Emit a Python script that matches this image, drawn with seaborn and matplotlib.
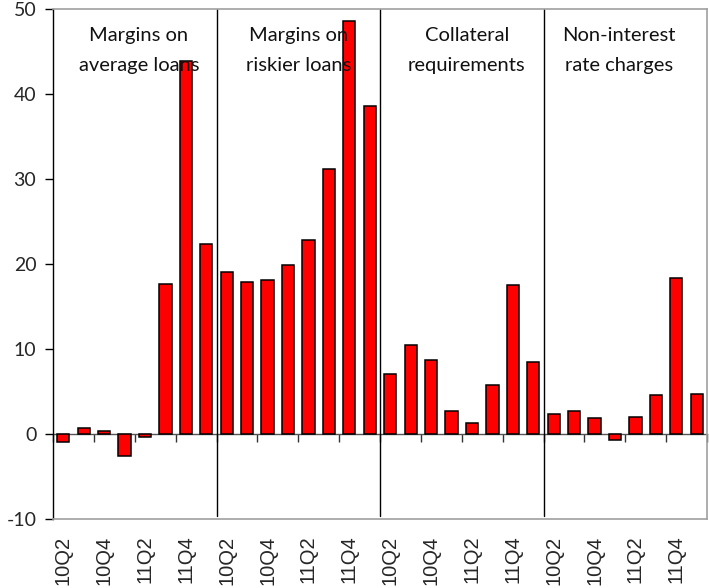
import pandas as pd
import numpy as np
import matplotlib.pyplot as plt
import seaborn as sns

# quarters shown in every panel
quarters = ['10Q2', '10Q3', '10Q4', '11Q1', '11Q2', '11Q3', '11Q4', '12Q1']
panels = ['Margins on\naverage loans', 'Margins on\nriskier loans',
          'Collateral\nrequirements', 'Non-interest\nrate charges']

avg_loans = [-0.9, 0.7, 0.35, -2.6, -0.3, 17.7, 43.9, 22.3]
riskier_loans = [19.1, 17.9, 18.1, 19.9, 22.8, 31.2, 48.6, 38.6]
collateral = [7.1, 10.45, 8.65, 2.7, 1.35, 5.75, 17.55, 8.45]
non_interest = [2.4, 2.7, 1.85, -0.7, 2.05, 4.55, 18.4, 4.7]

series = [avg_loans, riskier_loans, collateral, non_interest]

rows = []
for p, vals in enumerate(series):
    for q, v in zip(quarters, vals):
        rows.append({'panel': panels[p], 'quarter': q, 'value': v})
df = pd.DataFrame(rows)
df['pos'] = np.arange(len(df))

sns.set_theme(style='white')
plt.rcParams['font.family'] = ['Lato', 'DejaVu Sans']
plt.rcParams['axes.unicode_minus'] = False

fig = plt.figure(figsize=(7.09, 5.88), dpi=100)
ax = fig.add_axes([53 / 709, 69 / 588, 654 / 709, 510 / 588])

sns.barplot(data=df, x='pos', y='value', color='#ff0000', saturation=1,
            edgecolor='black', linewidth=1.1, width=0.6, ax=ax)

n = len(df)
ax.set_xlim(-0.5, n - 0.5)
ax.set_ylim(-10, 50)
ax.set_yticks(range(-10, 51, 10))
ax.tick_params(axis='y', labelsize=14, length=6, width=1, color='black',
               direction='out', left=True, pad=6)

# bottom labels, every second quarter
ax.set_xticks(range(0, n, 2))
ax.set_xticklabels(quarters[::2] * len(panels), rotation=90,
                   fontsize=14.5, family=['Liberation Sans', 'DejaVu Sans'])
ax.tick_params(axis='x', length=0, pad=12)
ax.set_xlabel('')
ax.set_ylabel('')

for s in ['top', 'right', 'bottom']:
    ax.spines[s].set_color('#a0a0a0')
    ax.spines[s].set_linewidth(1.2)
ax.spines['left'].set_color('black')
ax.spines['left'].set_linewidth(1)

# zero axis with tick marks between pairs of quarters
zero_frac = (0 - (-10)) / 60
sec = ax.secondary_xaxis(zero_frac)
sec.set_xticks(np.arange(-0.5, n, 2))
sec.set_xticklabels([])
sec.tick_params(axis='x', direction='out', length=6, width=1, color='#333333')
sec.spines['bottom'].set_color('#555555')
sec.spines['bottom'].set_linewidth(1)

# panel separators and titles
for k in range(1, len(panels)):
    ax.axvline(k * 8 - 0.5, ymin=0.006, ymax=1, color='black', lw=1)

title_x = [3.7, 11.5, 19.75, 27.2]
for tx, name in zip(title_x, panels):
    ax.text(tx, 45.1, name, ha='center', va='center', fontsize=14.5,
            linespacing=1.95, color='#111111')

fig.savefig('out.png', dpi=100)
